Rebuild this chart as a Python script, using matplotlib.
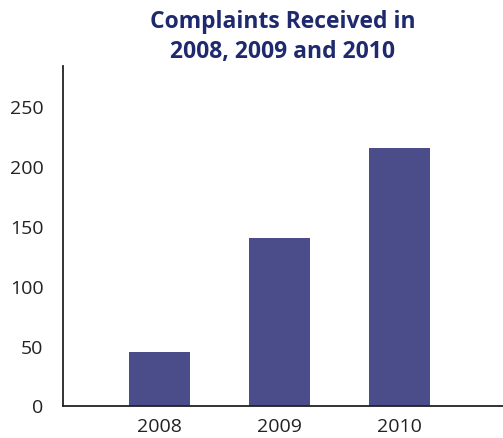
import matplotlib
matplotlib.use("Agg")
import matplotlib.pyplot as plt

years = ["2008", "2009", "2010"]
complaints = [45, 140, 215]
y_ticks = [0, 50, 100, 150, 200, 250]

plt.rcParams['font.family'] = ['Open Sans', 'DejaVu Sans']

W, H = 503, 439
fig = plt.figure(figsize=(W / 100, H / 100), dpi=100)
ax = fig.add_axes([63 / W, (H - 406.5) / H, (W - 63) / W + 0.01, (406.5 - 67) / H])

x = range(len(years))
ax.bar(x, complaints, width=0.51, color="#4a4d8a")

ax.set_xlim(-0.80, 2.90)
ax.set_ylim(0, 283)
ax.set_xticks(list(x))
ax.set_xticklabels(years)
ax.set_yticks(y_ticks)
ax.tick_params(axis="both", length=0, labelsize=14, colors="#222222")
ax.tick_params(axis="y", pad=14)
ax.tick_params(axis="x", pad=8)

for side in ("top", "right"):
    ax.spines[side].set_visible(False)
for side in ("left", "bottom"):
    ax.spines[side].set_linewidth(1.3)
    ax.spines[side].set_color("#222222")

fig.text(283 / W, 1 - 37 / H, "Complaints Received in\n2008, 2009 and 2010",
         ha="center", va="center", fontsize=16.5, fontweight="bold",
         color="#1f2a6e", linespacing=1.28)

fig.savefig("out.png", dpi=100)
